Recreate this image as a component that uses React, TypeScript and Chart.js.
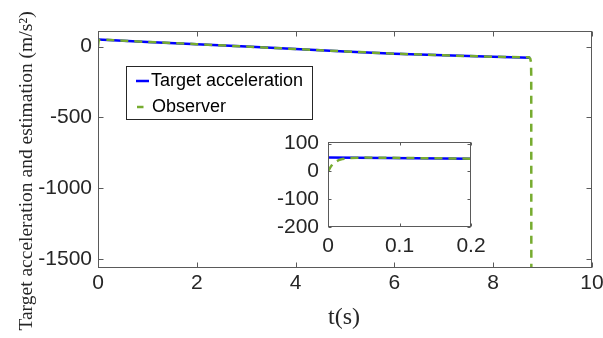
import React, { useEffect, useRef } from 'react';
import { Chart, registerables } from 'chart.js';
Chart.register(...registerables);

// ---- data ----
const mainTargetT = [0, 1, 2, 3, 4, 5, 6, 7, 8, 8.75];
const mainTargetA = [50, 33, 17, 0, -17, -34, -50, -62, -72, -78];
const mainObsT = [0, 0.01, 0.02, 0.05, 1, 2, 3, 4, 5, 6, 7, 8, 8.72, 8.75, 8.765, 8.77, 8.772];
const mainObsA = [0, 35, 45, 50, 33, 17, 0, -17, -34, -50, -62, -72, -76, -85, -110, -200, -1700];

const insetTargetT = [0, 0.2];
const insetTargetA = [50, 46];
const insetObsT = [0, 0.003, 0.006, 0.01, 0.015, 0.02, 0.03, 0.05, 0.2];
const insetObsA = [0, 14, 25, 34, 41, 45, 48.5, 50, 46];

const mainXTicks = [0, 2, 4, 6, 8, 10];
const mainXTickLabels = ['0', '2', '4', '6', '8', '10'];
const mainYTicks = [-1500, -1000, -500, 0];
const mainYTickLabels = ['-1500', '-1000', '-500', '0'];
const insetXTicks = [0, 0.1, 0.2];
const insetXTickLabels = ['0', '0.1', '0.2'];
const insetYTicks = [-200, -100, 0, 100];
const insetYTickLabels = ['-200', '-100', '0', '100'];

const seriesNames = ['Target acceleration', 'Observer'];
const xTitle = 't(s)';
const yTitle = 'Target acceleration and estimation (m/s\u00B2)';

const BLUE = '#0000ff';
const GREEN = '#77ac30';
const AXIS = '#262626';
const SANS = '"Liberation Sans", Arial, Helvetica, sans-serif';
const SERIF = '"Liberation Serif", "Times New Roman", serif';

const pts = (xs: number[], ys: number[]) => xs.map((x, i) => ({ x, y: ys[i] }));

function boxPlugin(id: string, tickLen: number, fillWhite: boolean) {
  return {
    id,
    beforeDraw(chart: any) {
      if (!fillWhite) return;
      const { left, top, right, bottom } = chart.chartArea;
      const ctx = chart.ctx;
      ctx.save();
      ctx.fillStyle = '#ffffff';
      ctx.fillRect(left, top, right - left, bottom - top);
      ctx.restore();
    },
    afterDraw(chart: any) {
      const { left, top, right, bottom } = chart.chartArea;
      const ctx = chart.ctx;
      const xs = chart.scales.x;
      const ys = chart.scales.y;
      ctx.save();
      ctx.strokeStyle = '#5a5a5a';
      ctx.lineWidth = 1;
      const L = Math.round(left) + 0.5, R = Math.round(right) - 0.5;
      const T = Math.round(top) + 0.5, B = Math.round(bottom) - 0.5;
      ctx.strokeRect(L, T, R - L, B - T);
      ctx.beginPath();
      xs.ticks.forEach((t: any) => {
        const px = Math.round(xs.getPixelForValue(t.value)) + 0.5;
        ctx.moveTo(px, B); ctx.lineTo(px, B - tickLen);
        ctx.moveTo(px, T); ctx.lineTo(px, T + tickLen);
      });
      ys.ticks.forEach((t: any) => {
        const py = Math.round(ys.getPixelForValue(t.value)) + 0.5;
        ctx.moveTo(L, py); ctx.lineTo(L + tickLen, py);
        ctx.moveTo(R, py); ctx.lineTo(R - tickLen, py);
      });
      ctx.stroke();
      ctx.restore();
    },
  };
}

const mainExtras = {
  id: 'mainExtras',
  afterDraw(chart: any) {
    const ctx = chart.ctx;
    ctx.save();
    // axis titles
    ctx.fillStyle = '#262626';
    ctx.textAlign = 'center';
    ctx.textBaseline = 'middle';
    ctx.font = `24px ${SERIF}`;
    ctx.fillText(xTitle, 344, 318);
    ctx.translate(27, 171);
    ctx.rotate(-Math.PI / 2);
    ctx.font = `19.5px ${SERIF}`;
    ctx.fillText(yTitle, 0, 0);
    ctx.restore();

    // legend
    ctx.save();
    ctx.fillStyle = '#ffffff';
    ctx.fillRect(126, 66, 187, 54);
    ctx.strokeStyle = AXIS;
    ctx.lineWidth = 1;
    ctx.strokeRect(126.5, 66.5, 186, 53);
    ctx.lineWidth = 2.5;
    ctx.strokeStyle = BLUE;
    ctx.beginPath(); ctx.moveTo(136, 81); ctx.lineTo(149, 81); ctx.stroke();
    ctx.strokeStyle = GREEN;
    ctx.beginPath(); ctx.moveTo(137, 107); ctx.lineTo(143.5, 107); ctx.stroke();
    ctx.fillStyle = '#000000';
    ctx.font = `18px ${SANS}`;
    ctx.textAlign = 'left';
    ctx.textBaseline = 'middle';
    ctx.fillText(seriesNames[0], 151, 81);
    ctx.fillText(seriesNames[1], 152, 107);
    ctx.restore();
  },
};

function makeScale(min: number, max: number, tickVals: number[], tickLabels: string[], fixed: number, horiz: boolean, pad: number) {
  return {
    type: 'linear',
    min,
    max,
    grid: { display: false, drawTicks: false },
    border: { display: false },
    afterBuildTicks(s: any) {
      s.ticks = tickVals.map((v) => ({ value: v }));
    },
    afterFit(s: any) {
      if (horiz) s.height = fixed; else s.width = fixed;
      s.paddingLeft = 0;
      s.paddingRight = 0;
      s.paddingTop = 0;
      s.paddingBottom = 0;
    },
    ticks: {
      autoSkip: false,
      maxRotation: 0,
      minRotation: 0,
      padding: pad,
      color: AXIS,
      font: { family: SANS, size: 21 },
      callback: (v: number) => {
        const i = tickVals.findIndex((t) => Math.abs(t - v) < 1e-9);
        return i >= 0 ? tickLabels[i] : '';
      },
    },
  };
}

export default function App() {
  const mainRef = useRef<HTMLCanvasElement>(null);
  const insetRef = useRef<HTMLCanvasElement>(null);

  useEffect(() => {
    document.body.style.margin = '0';
    const main = new Chart(mainRef.current as HTMLCanvasElement, {
      type: 'line',
      data: {
        datasets: [
          {
            label: seriesNames[0],
            data: pts(mainTargetT, mainTargetA),
            borderColor: BLUE,
            borderWidth: 2.5,
            pointRadius: 0,
            order: 2,
          },
          {
            label: seriesNames[1],
            data: pts(mainObsT, mainObsA),
            borderColor: GREEN,
            borderWidth: 2.5,
            borderDash: [8, 6],
            pointRadius: 0,
            order: 1,
          },
        ],
      },
      options: {
        responsive: false,
        animation: false,
        devicePixelRatio: 1,
        layout: { padding: { left: 0, top: 31, right: 11, bottom: 0 } },
        plugins: { legend: { display: false }, tooltip: { enabled: false } },
        elements: { line: { tension: 0 } },
        scales: {
          x: makeScale(0, 10, mainXTicks, mainXTickLabels, 70, true, 3),
          y: makeScale(-1563, 110, mainYTicks, mainYTickLabels, 98, false, 6),
        },
      } as any,
      plugins: [boxPlugin('mainBox', 5, false), mainExtras],
    });

    const inset = new Chart(insetRef.current as HTMLCanvasElement, {
      type: 'line',
      data: {
        datasets: [
          {
            label: seriesNames[0],
            data: pts(insetTargetT, insetTargetA),
            borderColor: BLUE,
            borderWidth: 2.5,
            pointRadius: 0,
            order: 2,
          },
          {
            label: seriesNames[1],
            data: pts(insetObsT, insetObsA),
            borderColor: GREEN,
            borderWidth: 2.5,
            borderDash: [8, 6],
            pointRadius: 0,
            order: 1,
          },
        ],
      },
      options: {
        responsive: false,
        animation: false,
        devicePixelRatio: 1,
        layout: { padding: { left: 0, top: 17, right: 24, bottom: 0 } },
        plugins: { legend: { display: false }, tooltip: { enabled: false } },
        elements: { line: { tension: 0 } },
        scales: {
          x: makeScale(0, 0.2, insetXTicks, insetXTickLabels, 33, true, 7),
          y: makeScale(-200, 106, insetYTicks, insetYTickLabels, 63, false, 9),
        },
      } as any,
      plugins: [boxPlugin('insetBox', 3, true)],
    });

    return () => {
      main.destroy();
      inset.destroy();
    };
  }, []);

  return (
    <div style={{ position: 'fixed', left: 0, top: 0, width: 603, height: 338, background: '#fff' }}>
      <canvas ref={mainRef} width={603} height={338} style={{ position: 'absolute', left: 0, top: 0 }} />
      <canvas ref={insetRef} width={230} height={135} style={{ position: 'absolute', left: 265, top: 125 }} />
    </div>
  );
}
